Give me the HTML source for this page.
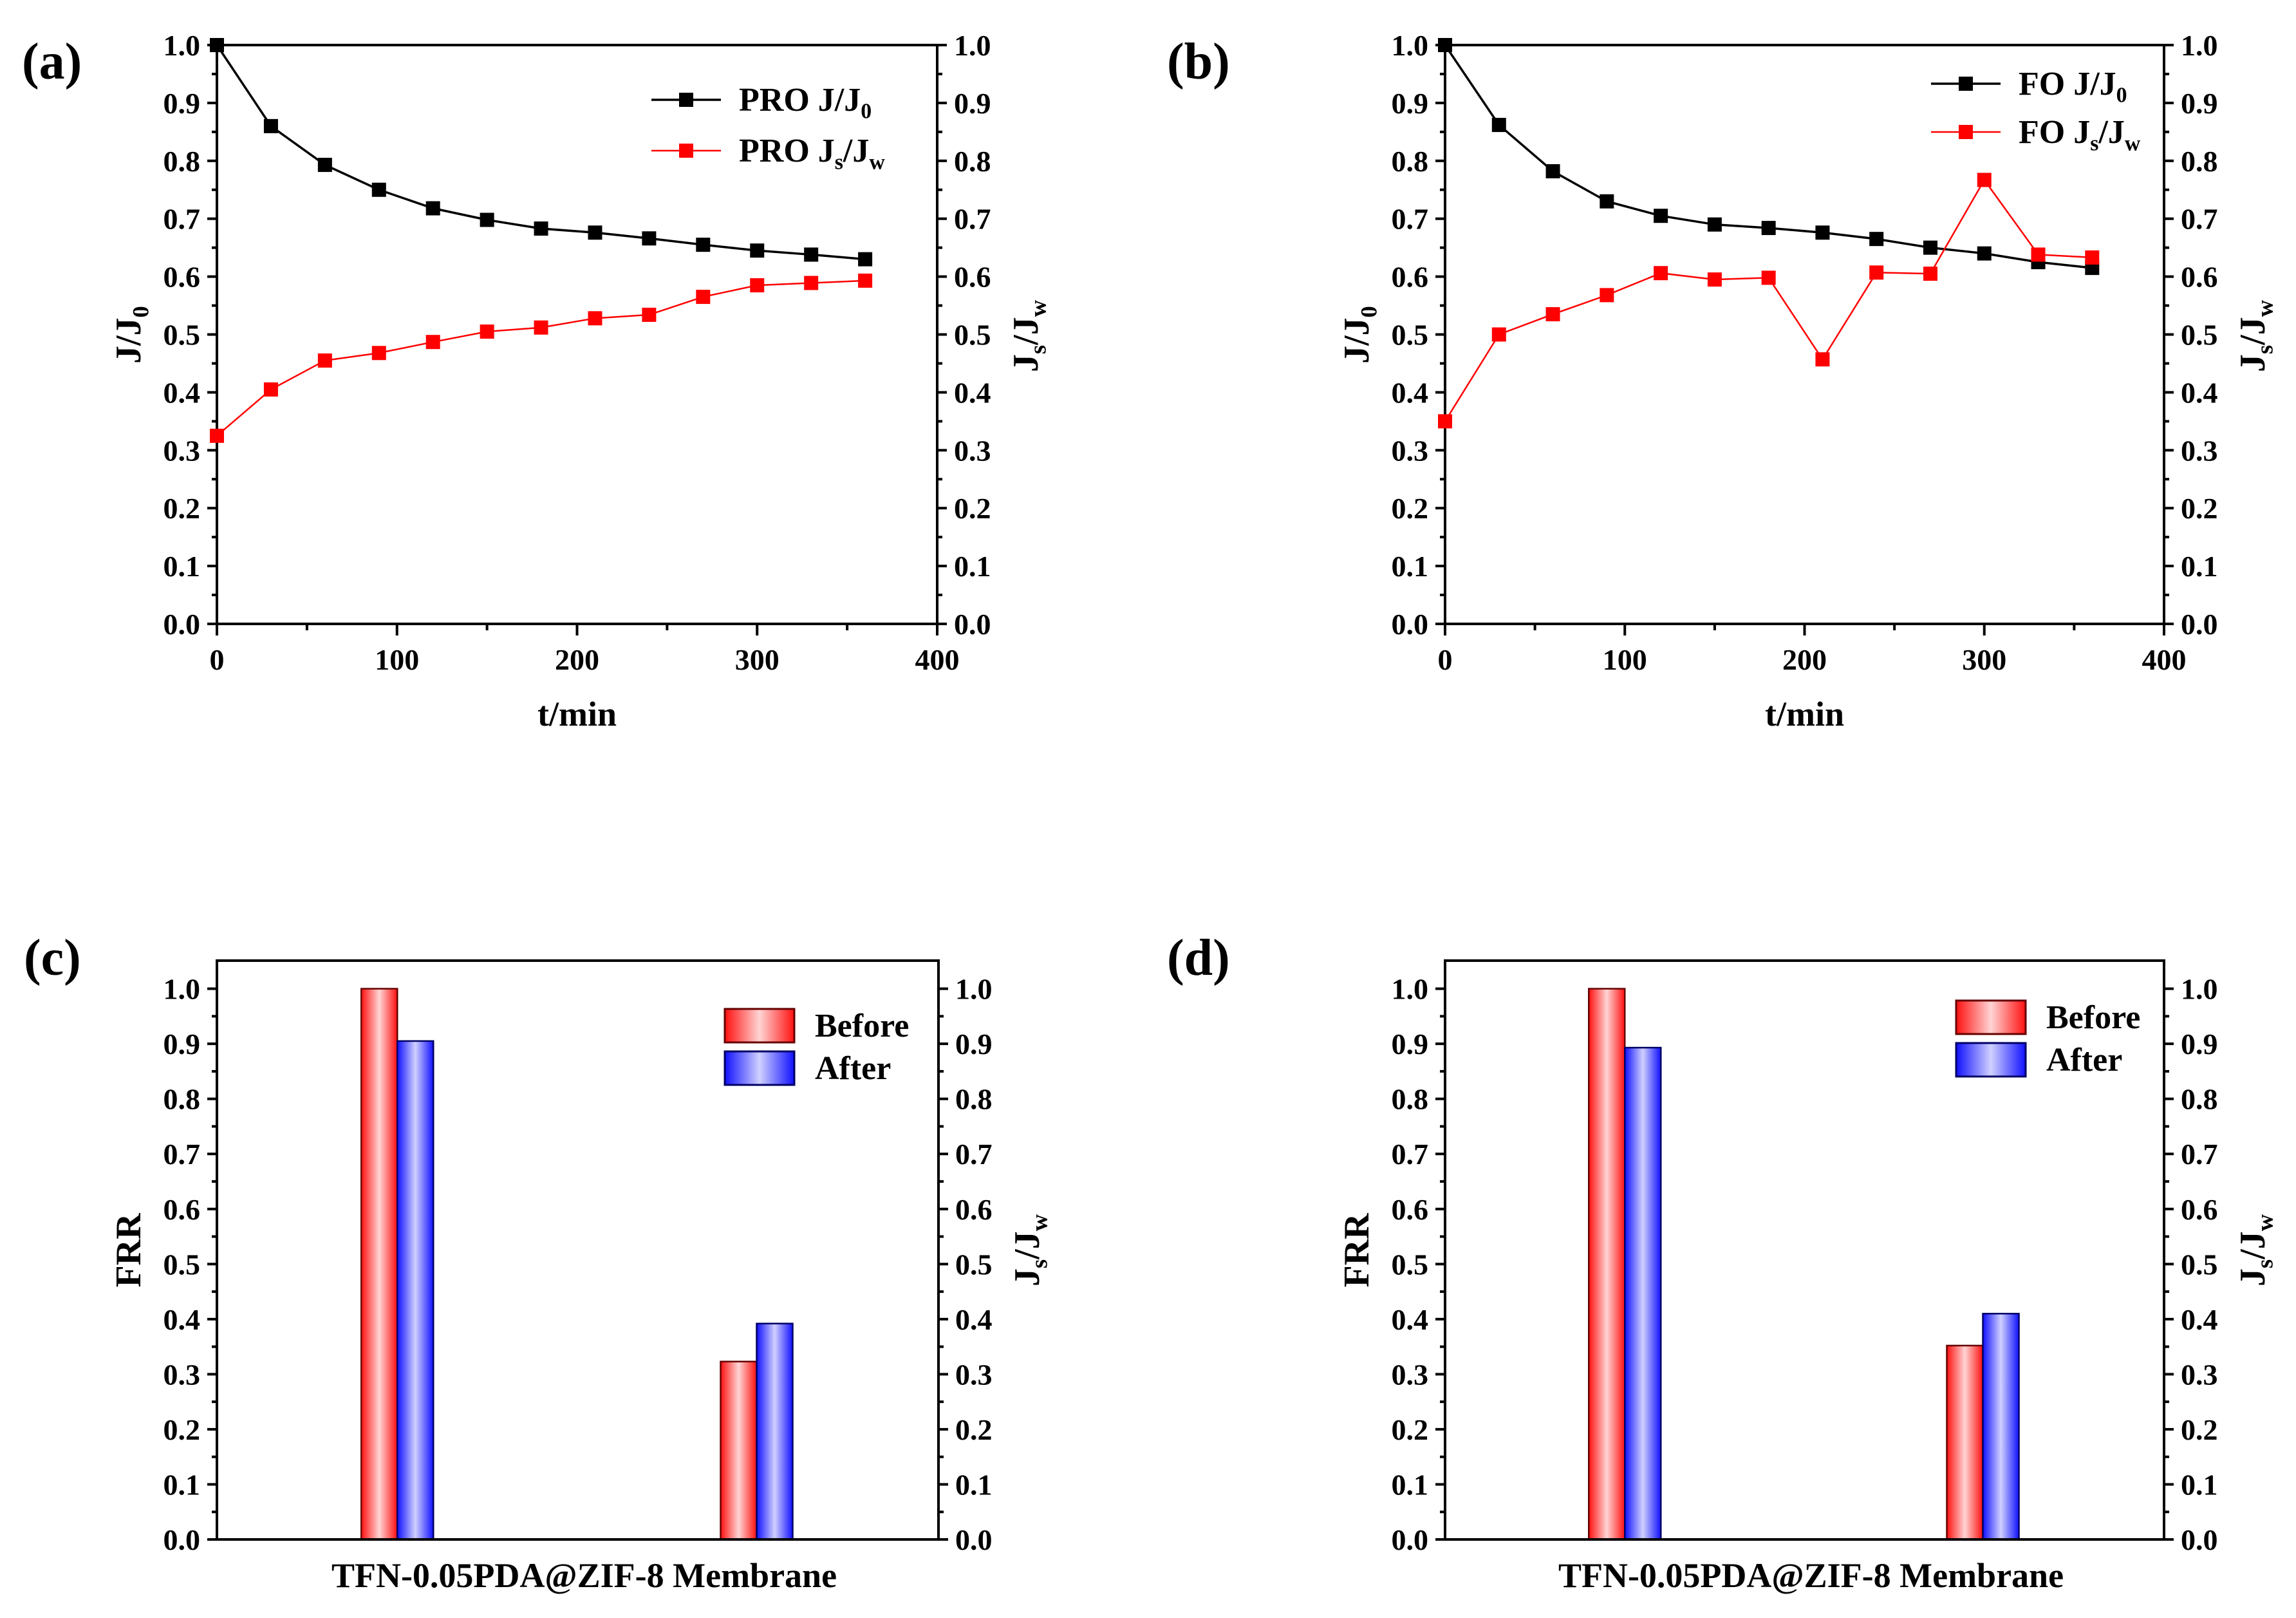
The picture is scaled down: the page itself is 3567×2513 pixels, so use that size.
<!DOCTYPE html>
<html><head><meta charset="utf-8"><style>
html,body{margin:0;padding:0;background:#fff;}
svg{display:block;font-family:"Liberation Serif",serif;font-weight:bold;}
</style></head><body>
<svg id="fig" width="3567" height="2513" viewBox="0 0 3567 2513" xmlns="http://www.w3.org/2000/svg">
<defs>
<linearGradient id="gRed" x1="0" x2="1" y1="0" y2="0">
<stop offset="0" stop-color="#ff1010"/><stop offset="0.5" stop-color="#ffd4d4"/><stop offset="1" stop-color="#ff1010"/>
</linearGradient>
<linearGradient id="gBlue" x1="0" x2="1" y1="0" y2="0">
<stop offset="0" stop-color="#1010ff"/><stop offset="0.5" stop-color="#d0d0ff"/><stop offset="1" stop-color="#1010ff"/>
</linearGradient>
</defs>
</svg>
<script>
// ---- data ----
const timeMin = [0,30,60,90,120,150,180,210,240,270,300,330,360];
const proJJ0 = [1.0,0.86,0.793,0.75,0.718,0.698,0.683,0.676,0.666,0.655,0.645,0.638,0.63];
const proJsJw = [0.325,0.405,0.455,0.468,0.487,0.505,0.512,0.528,0.534,0.565,0.585,0.589,0.593];
const foJJ0 = [1.0,0.862,0.782,0.73,0.705,0.69,0.684,0.676,0.665,0.65,0.64,0.625,0.615];
const foJsJw = [0.35,0.5,0.535,0.568,0.606,0.595,0.598,0.457,0.607,0.605,0.767,0.638,0.633];
const barGroups = ["FRR","Js/Jw"];
const proBefore = [1.0,0.323];
const proAfter = [0.905,0.392];
const foBefore = [1.0,0.352];
const foAfter = [0.893,0.41];
const yTickLabels = ["0.0","0.1","0.2","0.3","0.4","0.5","0.6","0.7","0.8","0.9","1.0"];
const xTickLabels = ["0","100","200","300","400"];

const NS="http://www.w3.org/2000/svg";
const svg=document.getElementById('fig');
function mk(tag,attrs,parent){const e=document.createElementNS(NS,tag);for(const k in attrs)e.setAttribute(k,attrs[k]);(parent||svg).appendChild(e);return e;}
function txt(str,x,y,size,anchor,parent){const t=mk('text',{x:x,y:y,'font-size':size,'text-anchor':anchor||'start',fill:'#000'},parent);t.textContent=str;return t;}
function subText(parts,x,y,size,anchor,parent,transform){
  const t=mk('text',{x:x,y:y,'font-size':size,'text-anchor':anchor||'start',fill:'#000'},parent);
  if(transform)t.setAttribute('transform',transform);
  let prevSub=false;
  parts.forEach(p=>{const s=mk('tspan',{},t);s.textContent=p[0];const isSub=!!p[1];
    if(isSub){s.setAttribute('font-size',size*0.65);s.setAttribute('dy',size*0.22);}
    else if(prevSub){s.setAttribute('dy',-size*0.22);}
    prevSub=isSub;});
  return t;
}

function axesFrame(g,P){
  const {x0,x1,yt,yb,ymax}=P;
  const ys=v=>yb-(v/ymax)*(yb-yt);
  mk('rect',{x:x0,y:yt,width:x1-x0,height:yb-yt,fill:'none',stroke:'#000','stroke-width':4},g);
  for(let i=0;i<yTickLabels.length;i++){
    const v=i/10,y=ys(v);
    mk('line',{x1:x0-15,x2:x0,y1:y,y2:y,stroke:'#000','stroke-width':4},g);
    mk('line',{x1:x1,x2:x1+15,y1:y,y2:y,stroke:'#000','stroke-width':4},g);
    const l=txt(yTickLabels[i],x0-26,y+16,46,'end',g);
    
    
    const r=txt(yTickLabels[i],x1+26,y+16,46,'start',g);
    
    
    if(i<10){const ym=ys(v+0.05);
      mk('line',{x1:x0-8,x2:x0,y1:ym,y2:ym,stroke:'#000','stroke-width':4},g);
      mk('line',{x1:x1,x2:x1+8,y1:ym,y2:ym,stroke:'#000','stroke-width':4},g);}
  }
  return ys;
}

function linePanel(id,x0,x1,s1,s2,names,legY,legX,label,labX){
  const g=mk('g',{});
  
  
  const P={x0:x0,x1:x1,yt:70,yb:969,ymax:1.0};
  const ys=axesFrame(g,P);
  const xs=v=>x0+v/400*(x1-x0);
  xTickLabels.forEach((lab,i)=>{const v=i*100,x=xs(v);
    mk('line',{x1:x,x2:x,y1:969,y2:987,stroke:'#000','stroke-width':4},g);
    if(i<4){const xm=xs(v+50);mk('line',{x1:xm,x2:xm,y1:969,y2:979,stroke:'#000','stroke-width':4},g);}
    const t=txt(lab,x,1040,46,'middle',g);
    
    
  });
  const xt=txt('t/min',(x0+x1)/2,1127,54,'middle',g);
  
  
  const yl=subText([['J/J'],['0',1]],0,0,56,'middle',g,`translate(${x0-119},520) rotate(-90)`);
  
  
  const yr=subText([['J'],['s',1],['/J'],['w',1]],0,0,56,'middle',g,`translate(${x1+156},522) rotate(-90)`);
  
  
  const pl=txt(label,labX,122,80,'start',g);
  
  
  [[s1,'#000',3.5,names[0]],[s2,'#ff0000',2.5,names[1]]].forEach((sr,si)=>{
    const pts=timeMin.map((t,i)=>xs(t)+','+ys(sr[0][i])).join(' ');
    const pl2=mk('polyline',{points:pts,fill:'none',stroke:sr[1],'stroke-width':sr[2]},g);
    
    
    timeMin.forEach((t,i)=>{const m=mk('rect',{x:xs(t)-11,y:ys(sr[0][i])-11,width:22,height:22,fill:sr[1]},g);
      
      });
    const ly=legY[si];
    const ll=mk('line',{x1:legX,x2:legX+108,y1:ly,y2:ly,stroke:sr[1],'stroke-width':sr[2]},g);
    
    
    const lm=mk('rect',{x:legX+43,y:ly-11,width:22,height:22,fill:sr[1]},g);
    
    
    const lt=subText(sr[3],legX+136,ly+17,52,'start',g);
    
    
  });
}

function barPanel(id,x0,x1,before,after,label,legX,legY,labX){
  const g=mk('g',{});
  
  
  const P={x0:x0,x1:x1,yt:1492,yb:2391,ymax:1.051};
  const ys=axesFrame(g,P);
  const xc=i=>x0+(0.25+0.498*i)*(x1-x0);
  const bw=56;
  barGroups.forEach((grp,i)=>{
    const c=xc(i);
    const b1=mk('rect',{x:c-bw,y:ys(before[i]),width:bw,height:2391-ys(before[i]),fill:'url(#gRed)',stroke:'#600','stroke-width':2.5},g);
    
    
    const b2=mk('rect',{x:c,y:ys(after[i]),width:bw,height:2391-ys(after[i]),fill:'url(#gBlue)',stroke:'#006','stroke-width':2.5},g);
    
    
  });
  mk('line',{x1:x0-15,x2:x1+15,y1:2391,y2:2391,stroke:'#000','stroke-width':4},g);
  const xt=txt('TFN-0.05PDA@ZIF-8 Membrane',(x0+x1)/2+10,2465,54,'middle',g);
  
  
  const yl=txt('FRR',0,0,56,'middle',g);yl.setAttribute('transform',`translate(${x0-119},1942) rotate(-90)`);
  
  
  const yr=subText([['J'],['s',1],['/J'],['w',1]],0,0,56,'middle',g,`translate(${x1+156},1942) rotate(-90)`);
  
  
  const pl=txt(label,labX,1514,80,'start',g);
  
  
  [['url(#gRed)','#600','Before'],['url(#gBlue)','#006','After']].forEach((L,i)=>{
    const y=legY+i*66;
    const r=mk('rect',{x:legX,y:y,width:108,height:52,fill:L[0],stroke:L[1],'stroke-width':3},g);
    
    
    const t=txt(L[2],legX+140,y+43,52,'start',g);
    
    
  });
}

linePanel('a',337,1456,proJJ0,proJsJw,[[['PRO J/J'],['0',1]],[['PRO J'],['s',1],['/J'],['w',1]]],[155,234],1012,'(a)',34);
linePanel('b',2245,3362,foJJ0,foJsJw,[[['FO J/J'],['0',1]],[['FO J'],['s',1],['/J'],['w',1]]],[130,205],3000,'(b)',1813);
barPanel('c',337,1458,proBefore,proAfter,'(c)',1126,1567,37);
barPanel('d',2245,3362,foBefore,foAfter,'(d)',3039,1554,1813);
</script>
</body></html>
